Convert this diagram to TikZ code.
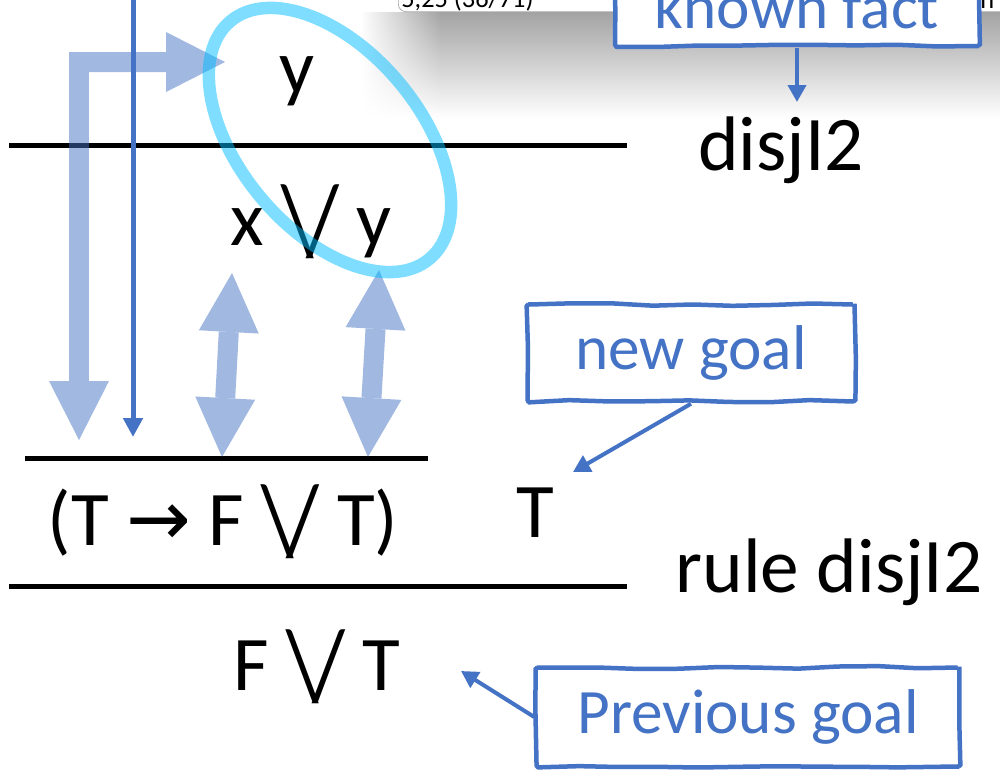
\documentclass[tikz,border=0pt]{standalone}
\usepackage{fontspec}
\setmainfont{Carlito}
\newfontfamily\symfont{DejaVu Sans}
\definecolor{calloutblue}{RGB}{68,114,196}
\definecolor{circlecyan}{RGB}{0,190,255}
\usetikzlibrary{arrows.meta, positioning, decorations.pathmorphing, shadings}
\newcommand{\vor}{\raisebox{-0.12em}{\scalebox{1.1}[1.3]{\textbackslash\kern-0.09em/}}}

\begin{document}
\begin{tikzpicture}[x=0.02cm, y=-0.02cm,
    formula/.style={font=\fontsize{44}{50}\selectfont, anchor=base, inner sep=0pt},
    ruleline/.style={line width=0.1cm},
    callout/.style={draw=calloutblue, line width=0.09cm, fill=white, text=calloutblue,
        font=\fontsize{36}{40}\selectfont, decorate,
        decoration={random steps, segment length=0.8cm, amplitude=0.8pt}, rounded corners=1pt},
    calloutarrow/.style={draw=calloutblue, line width=0.08cm, -{Triangle[width=0.36cm, length=0.34cm]}},
    thinarrow/.style={draw=calloutblue, line width=0.1cm, -{Triangle[width=0.38cm, length=0.38cm]}},
    bigarrow/.style={draw=calloutblue, line width=0.4cm, line join=miter,
        {Triangle[width=1.2cm, length=1.18cm, line width=0pt]}-{Triangle[width=1.2cm, length=1.18cm, line width=0pt]}}
    ]
\pgfmathsetseed{7}
\useasboundingbox (0,0) rectangle (1000,771);
\clip (0,0) rectangle (1000,771);

% slide popup at the top, with its shadow
\shade[top color=black!36, bottom color=white] (440,12) rectangle (1000,118);
\shade[upper left=white, upper right=black!36, lower left=white, lower right=white] (360,12) rectangle (440,118);
\node[draw=black!35, line width=0.4pt, fill=white, rounded corners=0.15cm, anchor=south west,
      minimum width=14cm, minimum height=2cm] (popup) at (398,12) {};
\node[anchor=base west, inner sep=0pt, font=\fontsize{15}{18}\selectfont] (slideno) at (401,7) {5,25 (36/71)};
\node[anchor=base west, inner sep=0pt, font=\fontsize{15}{18}\selectfont] (menu) at (974,8) {in};

% proof rules
\draw[ruleline] (9,145) -- (627,145);
\draw[ruleline] (25,458) -- (428,458);
\draw[ruleline] (9,586) -- (627,586);

\node[formula] (ytop) at (297,93) {y};
\node[formula] (xory) at (311,245) {x \vor{} y};
\node[formula] (disj) at (781,170) {disjI2};
\node[formula] (prem) at (223,545) {(T {\symfont →} F \vor{} T)};
\node[formula] (tgoal) at (535,537) {T};
\node[formula] (rule) at (829,592) {rule disjI2};
\node[formula] (concl) at (317,690) {F \vor{} T};

% unification arrows
\coordinate (lfoot) at (79,440);
\coordinate (lhead) at (225,62);
\coordinate (xfoot) at (222,457);
\coordinate (xhead) at (232,273);
\coordinate (yfoot) at (368,457);
\coordinate (yhead) at (379,270);
\begin{scope}[transparency group, opacity=0.5]
  \draw[bigarrow] (lfoot) |- (lhead);
  \draw[bigarrow] (xfoot) -- (xhead);
  \draw[bigarrow] (yfoot) -- (yhead);
\end{scope}

\draw[draw=circlecyan, opacity=0.5, line width=0.25cm, rotate around={-50:(330,140)}]
    (330,140) ellipse [x radius=155, y radius=90];

\coordinate (thintop) at (133,-5);
\coordinate (thintip) at (133,437);
\draw[thinarrow] (thintop) -- (thintip);

% callouts
\node[callout, minimum width=7.28cm, minimum height=1.56cm] (known) at (797,7) {known fact};
\node[callout, minimum width=6.54cm, minimum height=1.94cm] (newgoal) at (691,353) {new goal};
\node[callout, minimum width=8.46cm, minimum height=1.98cm] (prevgoal) at (748,717) {Previous goal};

\coordinate (knowntip) at (797,102);
\coordinate (newtip) at (573,472);
\coordinate (prevtip) at (461,671);
\draw[calloutarrow] (known.south) -- (knowntip);
\draw[calloutarrow] (newgoal.south) -- (newtip);
\draw[calloutarrow] (prevgoal.west) -- (prevtip);
\end{tikzpicture}
\end{document}
